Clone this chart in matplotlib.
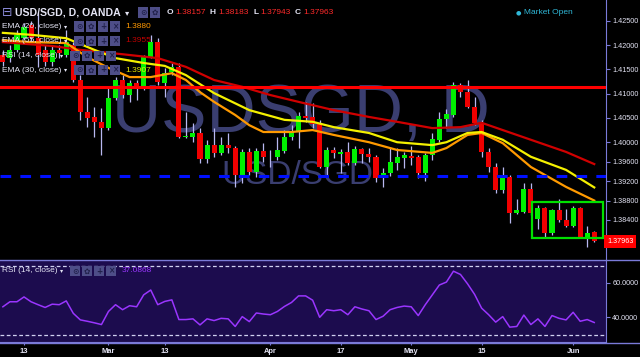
import matplotlib as mpl

mpl.use("Agg")
import matplotlib.pyplot as plt
from matplotlib.patches import Rectangle
import numpy as np

plt.rcParams["font.family"] = ["Liberation Sans", "DejaVu Sans"]

# daily USD/SGD candles, 8 Feb .. 6 Jun 2017
opens = [1.4179, 1.4173, 1.4190, 1.4214, 1.4241, 1.4214, 1.4190, 1.4165, 1.4190, 1.4179,
         1.4200, 1.4128, 1.4062, 1.4052, 1.4042, 1.4029, 1.4091, 1.4128, 1.4097, 1.4122,
         1.4114, 1.4175, 1.4206, 1.4122, 1.4144, 1.4155, 1.4010, 1.4011, 1.4019, 1.3965,
         1.3994, 1.3978, 1.3994, 1.3988, 1.3933, 1.3980, 1.3939, 1.3982, 1.3970, 1.3970,
         1.3982, 1.4011, 1.4021, 1.4054, 1.4052, 1.4037, 1.3949, 1.3984, 1.3976, 1.3980,
         1.3957, 1.3986, 1.3976, 1.3970, 1.3926, 1.3937, 1.3957, 1.3967, 1.3972, 1.3970,
         1.3937, 1.3974, 1.4005, 1.4048, 1.4056, 1.4118, 1.4103, 1.4072, 1.4040, 1.3980,
         1.3949, 1.3902, 1.3928, 1.3854, 1.3856, 1.3904, 1.3842, 1.3865, 1.3813, 1.3861,
         1.3840, 1.3828, 1.3865, 1.3805, 1.38157]
highs = [1.4190, 1.4200, 1.4231, 1.4245, 1.4250, 1.4268, 1.4200, 1.4200, 1.4200, 1.4231,
         1.4206, 1.4138, 1.4093, 1.4072, 1.4070, 1.4112, 1.4134, 1.4138, 1.4128, 1.4128,
         1.4179, 1.4221, 1.4214, 1.4153, 1.4163, 1.4163, 1.4062, 1.4040, 1.4029, 1.4005,
         1.4029, 1.4011, 1.4019, 1.3992, 1.3986, 1.3988, 1.3988, 1.3998, 1.3984, 1.4011,
         1.4025, 1.4035, 1.4062, 1.4083, 1.4081, 1.4046, 1.3990, 1.3990, 1.3986, 1.4000,
         1.3992, 1.3988, 1.3988, 1.3974, 1.3947, 1.3990, 1.3988, 1.3980, 1.3992, 1.3974,
         1.3978, 1.4019, 1.4062, 1.4068, 1.4124, 1.4122, 1.4128, 1.4093, 1.4046, 1.3988,
         1.3957, 1.3949, 1.3933, 1.3883, 1.3916, 1.3916, 1.3871, 1.3867, 1.3863, 1.3883,
         1.3863, 1.3869, 1.3867, 1.3828, 1.38183]
lows = [1.4157, 1.4165, 1.4186, 1.4210, 1.4206, 1.4155, 1.4157, 1.4157, 1.4173, 1.4175,
        1.4124, 1.4046, 1.4031, 1.4011, 1.3974, 1.4025, 1.4087, 1.4091, 1.4083, 1.4087,
        1.4107, 1.4173, 1.4118, 1.4093, 1.4138, 1.4009, 1.4009, 1.4000, 1.3957, 1.3957,
        1.3970, 1.3974, 1.3978, 1.3908, 1.3916, 1.3933, 1.3928, 1.3959, 1.3949, 1.3963,
        1.3978, 1.4005, 1.3988, 1.4042, 1.4029, 1.3947, 1.3928, 1.3967, 1.3937, 1.3953,
        1.3953, 1.3957, 1.3959, 1.3918, 1.3908, 1.3930, 1.3943, 1.3947, 1.3953, 1.3926,
        1.3920, 1.3963, 1.4000, 1.4029, 1.4052, 1.4093, 1.4070, 1.4035, 1.3970, 1.3939,
        1.3895, 1.3895, 1.3834, 1.3852, 1.3854, 1.3850, 1.3821, 1.3805, 1.3809, 1.3836,
        1.3826, 1.3826, 1.3803, 1.3784, 1.37943]
closes = [1.4165, 1.4190, 1.4221, 1.4237, 1.4214, 1.4179, 1.4165, 1.4190, 1.4184, 1.4206,
          1.4128, 1.4062, 1.4050, 1.4042, 1.4029, 1.4091, 1.4128, 1.4097, 1.4122, 1.4112,
          1.4175, 1.4206, 1.4124, 1.4142, 1.4155, 1.4011, 1.4012, 1.4019, 1.3965, 1.3994,
          1.3978, 1.3994, 1.3988, 1.3933, 1.3980, 1.3939, 1.3982, 1.3970, 1.3969, 1.3984,
          1.4011, 1.4023, 1.4054, 1.4050, 1.4037, 1.3949, 1.3984, 1.3978, 1.3980, 1.3957,
          1.3986, 1.3976, 1.3970, 1.3926, 1.3937, 1.3959, 1.3970, 1.3974, 1.3967, 1.3937,
          1.3974, 1.4007, 1.4048, 1.4058, 1.4118, 1.4103, 1.4072, 1.4040, 1.3980, 1.3949,
          1.3902, 1.3928, 1.3854, 1.3861, 1.3904, 1.3854, 1.3865, 1.3813, 1.3861, 1.3840,
          1.3828, 1.3865, 1.3805, 1.3813, 1.37963]

# moving averages (bar index, price)
ema20_idx = [0, 4, 9, 12, 15, 18, 21, 24, 26, 28, 30, 33, 35, 37, 41, 44, 47, 52, 56, 61,
             63, 66, 68, 71, 75, 80, 84]
ema20_val = [1.4210, 1.4206, 1.4204, 1.4175, 1.4153, 1.4134, 1.4134, 1.4142, 1.4128, 1.4103,
             1.4083, 1.4056, 1.4035, 1.4021, 1.4021, 1.4025, 1.4015, 1.4000, 1.3984, 1.3978,
             1.3988, 1.4015, 1.4019, 1.3998, 1.3949, 1.3908, 1.3880]
ema30_idx = [0, 4, 9, 13, 16, 20, 23, 26, 30, 35, 40, 44, 47, 52, 56, 61, 63, 66, 68, 71,
             75, 80, 84]
ema30_val = [1.4225, 1.4221, 1.4214, 1.4190, 1.4173, 1.4163, 1.4157, 1.4138, 1.4101, 1.4066,
             1.4046, 1.4042, 1.4031, 1.4019, 1.4000, 1.3994, 1.4000, 1.4019, 1.4021, 1.4005,
             1.3970, 1.3943, 1.3907]
ema55_idx = [0, 7, 11, 17, 22, 26, 30, 34, 38, 42, 47, 52, 56, 61, 65, 68, 71, 75, 80, 84]
ema55_val = [1.4206, 1.4198, 1.4190, 1.4181, 1.4173, 1.4155, 1.4128, 1.4114, 1.4097, 1.4083,
             1.4066, 1.4052, 1.4042, 1.4029, 1.4031, 1.4040, 1.4025, 1.4005, 1.3980, 1.3955]

rsi = [46.2, 49.1, 49.1, 51.9, 49.1, 47.4, 45.8, 47.7, 47.4, 49.6,
       42.4, 38.6, 37.8, 36.9, 35.9, 43.5, 47.4, 44.5, 46.8, 46.2,
       53.1, 55.9, 47.4, 49.3, 50.2, 38.8, 38.8, 39.2, 35.7, 39.2,
       38.2, 39.5, 39.2, 34.8, 40.5, 37.6, 42.6, 42.0, 41.6, 43.5,
       46.4, 48.7, 52.5, 52.5, 50.0, 40.1, 44.5, 43.9, 44.5, 41.6,
       46.2, 44.9, 43.9, 38.8, 40.7, 44.5, 45.8, 46.6, 46.2, 41.1,
       47.4, 53.1, 58.8, 60.5, 66.8, 64.9, 59.5, 53.4, 45.4, 41.6,
       37.3, 40.5, 34.4, 34.8, 41.4, 35.9, 39.2, 34.8, 41.1, 39.5,
       38.6, 43.0, 37.8, 38.8, 37.09]

date_idx = [3, 15, 23, 38, 48, 58, 68, 81]
date_labels = ["13", "Mar", "13", "Apr", "17", "May", "15", "Jun"]

price_ticks = [1.425, 1.420, 1.415, 1.410, 1.405, 1.400, 1.396, 1.392, 1.388, 1.384]
rsi_ticks = [60, 40]

resistance = 1.4113
support = 1.39295
box_left, box_right = 75.1, 85.3
box_low, box_high = 1.3803, 1.3877

W, H = 640, 357
AXCOL = "#7a7ad8"
TXT = "#e4e4f4"
LAB = 5.2


def fx(px):
    return px / W


def fy(py):
    return 1 - py / H


fig = plt.figure(figsize=(6.4, 3.57), dpi=100, facecolor="black")

ax = fig.add_axes([0, fy(259), fx(606), 259 / H], facecolor="black")
rax = fig.add_axes([0, fy(342), fx(606), 81 / H], facecolor="#1c0c4e", sharex=ax)

n = len(closes)
idx = np.arange(n)
o = np.array(opens)
c = np.array(closes)
up = c >= o
cols = np.where(up, "#00f000", "#f00000")
body = np.maximum(np.abs(c - o), 0.00005)

# watermarks
ax.text(42.3, 1.4021, "USDSGD, D", fontsize=49, color="#3a3e70", ha="center",
        va="baseline", family="Liberation Sans", zorder=0)
ax.text(41.8, 1.3914, "USD/SGD", fontsize=24, color="#3a3e70", ha="center",
        va="baseline", family="Liberation Sans", zorder=0)

ax.vlines(idx, lows, highs, color="#b8b8f0", lw=0.9, zorder=2)
ax.bar(idx, body, bottom=np.minimum(o, c), width=0.72, color=cols, zorder=3)

ax.plot(ema55_idx, ema55_val, color="#d00000", lw=1.6, zorder=4)
ax.plot(ema20_idx, ema20_val, color="#ff9a00", lw=1.6, zorder=4)
ax.plot(ema30_idx, ema30_val, color="#f4f000", lw=1.6, zorder=4)

ax.axhline(resistance, color="#ff0000", lw=2.2, zorder=5)
ax.axhline(support, color="#0010ff", lw=2.2, ls=(0, (3.5, 3)), zorder=5)
ax.add_patch(Rectangle((box_left, box_low), box_right - box_left, box_high - box_low,
                       fill=False, edgecolor="#00e000", lw=1.6, zorder=6))

ax.set_xlim(-0.41, 85.67)
ax.set_ylim(1.37597, 1.42926)
ax.set_yticks(price_ticks)
ax.set_yticklabels([f"{t:.5f}" for t in price_ticks])
ax.yaxis.tick_right()
ax.tick_params(axis="y", colors=AXCOL, labelcolor=TXT, labelsize=LAB, length=3, width=0.8, pad=1.5)
ax.tick_params(axis="x", bottom=False, labelbottom=False)
for s in ["top", "left", "bottom"]:
    ax.spines[s].set_visible(False)
ax.spines["right"].set_color(AXCOL)

# last price tag
ax.text(1.002, closes[-1], f"{closes[-1]:.5f}", transform=ax.get_yaxis_transform(),
        fontsize=LAB, color="white", va="center", ha="left", zorder=10, clip_on=False,
        bbox=dict(boxstyle="square,pad=0.4", fc="#ff0000", ec="none"))

# RSI panel
rax.plot(idx, rsi, color="#9a35ff", lw=1.1)
rax.axhline(70, color="#d0d0f0", lw=0.9, ls=(0, (3, 2)))
rax.axhline(30, color="#d0d0f0", lw=0.9, ls=(0, (3, 2)))
rax.set_ylim(25.8, 72.7)
rax.set_yticks(rsi_ticks)
rax.set_yticklabels([f"{t:.4f}" for t in rsi_ticks])
rax.yaxis.tick_right()
rax.tick_params(axis="y", colors=AXCOL, labelcolor=TXT, labelsize=LAB, length=3, width=0.8, pad=1.5)
rax.set_xticks(date_idx)
rax.set_xticklabels(date_labels)
rax.tick_params(axis="x", colors=AXCOL, labelcolor=TXT, labelsize=5.4, length=2, width=0.8, pad=2)
for lab in rax.get_xticklabels():
    lab.set_fontweight("bold")
rax.spines["left"].set_visible(False)
rax.spines["top"].set_visible(False)
rax.spines["right"].set_color(AXCOL)
rax.spines["bottom"].set_color(AXCOL)

# separators across the full width
fig.add_artist(plt.Line2D([0, 1], [fy(260), fy(260)], color=AXCOL, lw=1.0))
fig.add_artist(plt.Line2D([0, 1], [fy(342.5), fy(342.5)], color=AXCOL, lw=1.0))


def icons(x0, py, n=4, step=12):
    glyphs = ["⊙", "✿", "+", "×"]
    for k in range(n):
        fig.add_artist(Rectangle((fx(x0 + k * step), fy(py + 5)), fx(10), 10 / H,
                                 fc="#4e4e88", ec="none"))
        fig.text(fx(x0 + k * step + 5), fy(py), glyphs[k], fontsize=5.5, color="#20204a",
                 ha="center", va="center", family="DejaVu Sans", weight="bold")


# header
fig.text(fx(1.5), fy(12.5), "⊟", fontsize=9, color="#8a8ad8", va="center", family="DejaVu Sans")
fig.text(fx(15), fy(12.5), "USD/SGD, D, OANDA", fontsize=7.6, color=TXT, weight="bold", va="center")
fig.text(fx(125), fy(12.5), "▾", fontsize=6, color=TXT, va="center", family="DejaVu Sans")
icons(138, 12.5, n=2)
for lx, letter, vx, val in [(167, "O", 175, "1.38157"), (210, "H", 218, "1.38183"),
                            (253, "L", 260, "1.37943"), (295, "C", 303, "1.37963")]:
    fig.text(fx(lx), fy(12.5), letter, fontsize=6, color=TXT, weight="bold", va="center")
    fig.text(fx(vx), fy(12.5), val, fontsize=6, color="#ff2a2a", va="center")
fig.text(fx(516), fy(12.5), "●", fontsize=4.5, color="#30b8d8", va="center", family="DejaVu Sans")
fig.text(fx(524), fy(12.5), "Market Open", fontsize=6, color="#30b8d8", va="center")

rows = [(26.5, "EMA (20, close)", "1.3880", "#ff9800"),
        (41, "EMA (55, close)", "1.3955", "#c00000"),
        (55.5, "RSI (14, close)", None, None),
        (70, "EMA (30, close)", "1.3907", "#e8e800")]
for py, label, val, vc in rows:
    ema = label.startswith("EMA")
    fig.text(fx(2), fy(py), label, fontsize=6.0, color=TXT, va="center")
    fig.text(fx(64 if ema else 60), fy(py), "▾", fontsize=4.5,
             color=TXT, va="center", family="DejaVu Sans")
    icons(74 if ema else 70, py)
    if val:
        fig.text(fx(125), fy(py), val, fontsize=6, color=vc, va="center")

fig.text(fx(2), fy(271), "RSI (14, close)", fontsize=6.0, color=TXT, va="center")
fig.text(fx(60), fy(271), "▾", fontsize=4.5, color=TXT, va="center", family="DejaVu Sans")
icons(70, 271)
fig.text(fx(122), fy(271), "37.0868", fontsize=6, color="#9a35ff", va="center")

fig.savefig("out.png", dpi=100, facecolor="black")
